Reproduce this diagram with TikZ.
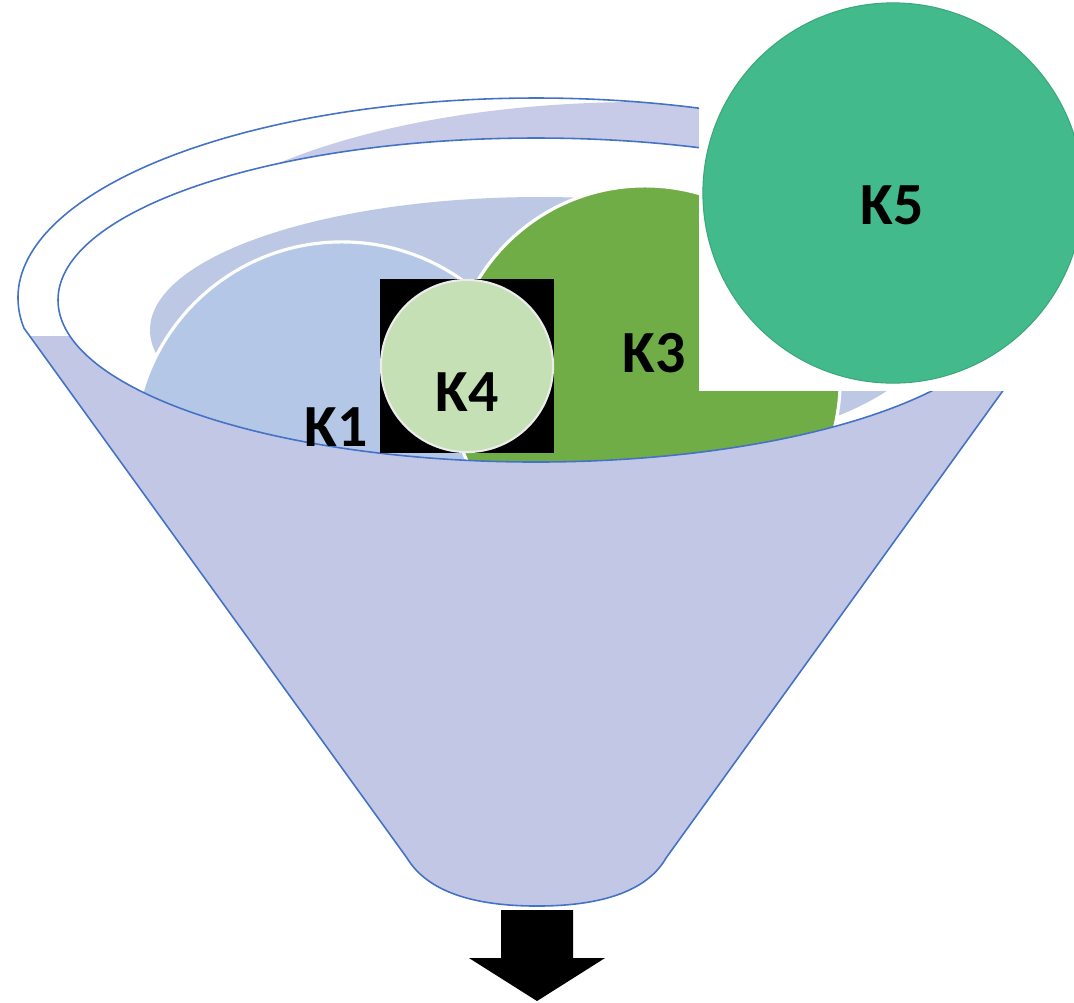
\documentclass[tikz,border=0pt]{standalone}
\usepackage{fontspec}
\setmainfont{Carlito}
\definecolor{funnelfill}{RGB}{194,199,229}
\definecolor{contentfill}{RGB}{189,201,228}
\definecolor{funnelline}{RGB}{68,114,196}
\definecolor{kone}{RGB}{180,199,231}
\definecolor{kthree}{RGB}{112,173,71}
\definecolor{kfour}{RGB}{197,224,180}
\definecolor{kfive}{RGB}{67,186,139}
\tikzset{
  klabel/.style={inner sep=0pt, font=\fontsize{17pt}{20pt}\selectfont\bfseries, text=black},
  ball/.style={circle, inner sep=0pt, draw=white, line width=0.9pt},
  outline/.style={draw=funnelline, line width=0.45pt},
}
\begin{document}
\begin{tikzpicture}[x=0.01cm, y=-0.01cm]
\useasboundingbox (0,0) rectangle (1074,1002);
% funnel body
\path[fill=funnelfill] (23.9,328) arc[start angle=171.37, end angle=368.63, x radius=518, y radius=200]
  -- (666,858) .. controls (650,886) and (612,906) .. (537,906)
  .. controls (462,906) and (424,886) .. (407,858) -- cycle;
% rim
\begin{scope}
  \clip (536,298) ellipse [x radius=518, y radius=200];
  \fill[white] (0,0) rectangle (1074,336);
  \clip (0,0) rectangle (1074,300);
  \fill[funnelfill!92!white] (640,300) ellipse [x radius=500, y radius=198];
\end{scope}
% opening
\fill[white] (536,300) ellipse [x radius=478, y radius=162];
\begin{scope}
  \clip (536,300) ellipse [x radius=478, y radius=162];
  \fill[contentfill] (540,330) ellipse [x radius=390, y radius=133];
  \node[ball, fill=kone, minimum size=4.16cm] (k1) at (342,450) {};
  \node[ball, fill=kthree, minimum size=3.9cm] (k3) at (645,381) {};
\end{scope}
\draw[outline] (536,300) ellipse [x radius=478, y radius=162];
\draw[outline] (23.9,328) arc[start angle=171.37, end angle=368.63, x radius=518, y radius=200]
  -- (666,858) .. controls (650,886) and (612,906) .. (537,906)
  .. controls (462,906) and (424,886) .. (407,858) -- cycle;
% K4
\node[fill=black, inner sep=0pt, minimum size=1.74cm] (k4box) at (467,366) {};
\node[circle, fill=kfour, draw=white!85!gray, line width=0.6pt, inner sep=0pt, minimum size=1.72cm] (k4) at (467,366) {};
% labels
\node[klabel] (k1label) at (336,427) {K1};
\node[klabel] (k4label) at (467,392) {K4};
\node[klabel] (k3label) at (654,353) {K3};
% K5 with white backing
\fill[white] (699,0) rectangle (1074,391);
\node[circle, fill=kfive, draw=kfive!90!black, line width=0.3pt, inner sep=0pt, minimum size=3.8cm] (k5) at (893,193) {};
\node[klabel] (k5label) at (892,205) {K5};
% arrow
\fill[black] (501,910) -- (573,910) -- (573,958) -- (605,958) -- (537,1001) -- (469,958) -- (501,958) -- cycle;
\end{tikzpicture}
\end{document}
